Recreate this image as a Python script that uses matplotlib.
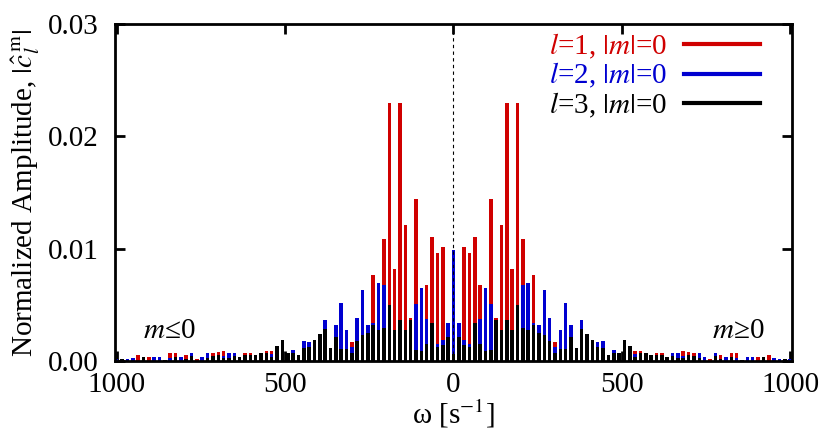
import numpy as np
import matplotlib
matplotlib.use("Agg")
import matplotlib.pyplot as plt
from matplotlib.lines import Line2D

plt.rcParams['font.family'] = 'Liberation Serif'
plt.rcParams['mathtext.fontset'] = 'stix'

# Espectro simetrico: valores para m>=0 (indice k = 0..63), se reflejan para m<=0
d_omega = 1000.0 / 63
k_pos = np.arange(64)

amp_l1 = [0, 0, 0.01015, 0.00959, 0.01107, 0.00674, 0, 0.01446, 0.00386, 0.01208,
          0.02294, 0.00816, 0.02294, 0.01083, 0, 0.00763, 0, 0, 0, 0.00166,
          0, 0, 0, 0, 0, 0, 0, 0, 0, 0,
          0, 0, 0, 0, 0.00086, 0.00086, 0, 0, 0.00068, 0.00068,
          0, 0, 0, 0.00086, 0.0008, 0.00068, 0, 0, 0.00021, 0,
          0.00056, 0, 0.00074, 0.00074, 0, 0, 0, 0.00036, 0, 0.0005,
          0, 0, 0, 0]
amp_l2 = [0.00985, 0.00341, 0.00184, 0.0015, 0, 0.00377, 0.00653, 0.00505, 0, 0,
          0, 0, 0, 0.00674, 0.00698, 0.00341, 0.00318, 0.00632, 0.0038, 0.00125,
          0.00273, 0.0052, 0.0032, 0, 0.00365, 0, 0, 0.00172, 0.0018, 0,
          0.00098, 0, 0, 0, 0.00059, 0, 0, 0.00045, 0, 0,
          0, 0.00074, 0.00068, 0.0004, 0, 0.00033, 0.00074, 0.00039, 0, 0.00068,
          0, 0.00036, 0, 0.00027, 0, 0.00036, 0.00039, 0, 0, 0,
          0.0003, 0.00021, 0, 0.00021]
amp_l3 = [0.0006, 0.00217, 0.00142, 0.00128, 0.00335, 0.00148, 0.00089, 0.00098, 0.00365, 0.00273,
          0.00362, 0.00279, 0.00499, 0.00291, 0.00273, 0.0032, 0.00252, 0.00232, 0.00175, 0.00074,
          0.00104, 0.00104, 0.00214, 0.00116, 0.00288, 0.00243, 0.00187, 0.00125, 0.00116, 0.0005,
          0.00074, 0.00068, 0.00187, 0.00134, 0.00039, 0.00074, 0.00074, 0.0005, 0.00056, 0.00056,
          0.00033, 0.00045, 0.0003, 0.00027, 0.00056, 0.00045, 0.00027, 0, 0, 0.00045,
          0.00021, 0, 0.00036, 0, 0.0001, 0, 0, 0, 0.00039, 0,
          0, 0, 0.00015, 0]

series = [
    (amp_l1, '#d00000', r'$l$=1, $|m|$=0'),
    (amp_l2, '#0000d0', r'$l$=2, $|m|$=0'),
    (amp_l3, '#000000', r'$l$=3, $|m|$=0'),
]

x_ticks = [-1000, -500, 0, 500, 1000]
x_ticklabels = ['1000', '500', '0', '500', '1000']
y_ticks = [0.0, 0.01, 0.02, 0.03]

FS = 21


def espejo(a):
    a = np.asarray(a)
    return np.concatenate([a[:0:-1], a])


omega = espejo(k_pos) * d_omega
omega[:63] *= -1

fig = plt.figure(figsize=(8.3, 4.45), dpi=100)
ax = fig.add_axes([0.1386, 0.1888, 0.8154, 0.7572])

handles = []
for amp, color, label in series:
    ax.bar(omega, espejo(amp), width=0.66 * d_omega, color=color, linewidth=0, zorder=2)
    handles.append(Line2D([], [], color=color, lw=3, label=label))

ax.axvline(0, color='black', lw=0.8, ls=(0, (3, 3)), zorder=3)

ax.set_xlim(-1005, 1005)
ax.set_ylim(0, 0.03)
ax.set_xticks(x_ticks)
ax.set_xticklabels(x_ticklabels)
ax.set_yticks(y_ticks)
ax.set_yticklabels([f'{v:.2f}' for v in y_ticks])
ax.tick_params(direction='in', top=True, right=True, length=7, width=2,
               labelsize=FS)
ax.tick_params(axis='y', pad=12)
ax.tick_params(axis='x', pad=8)
for s in ax.spines.values():
    s.set_linewidth(2)

ax.set_xlabel(r'ω [s$^{\mathrm{-1}}$]', fontsize=FS, labelpad=0)
ax.set_ylabel(r'Normalized Amplitude, $|\hat{c}_{l}^{\,\mathrm{m}}|$', fontsize=FS, labelpad=4)

ax.text(-845, 0.0027, r'$m$≤0', fontsize=FS, ha='center', va='center')
ax.text(845, 0.0027, r'$m$≥0', fontsize=FS, ha='center', va='center')

leg = ax.legend(handles=handles, loc='upper right', bbox_to_anchor=(0.975, 1.02),
                frameon=False, markerfirst=False, fontsize=FS, handlelength=2.6,
                handletextpad=0.6, labelspacing=0.0, labelcolor='linecolor',
                borderaxespad=0.1)

fig.savefig('out.png', dpi=100)
